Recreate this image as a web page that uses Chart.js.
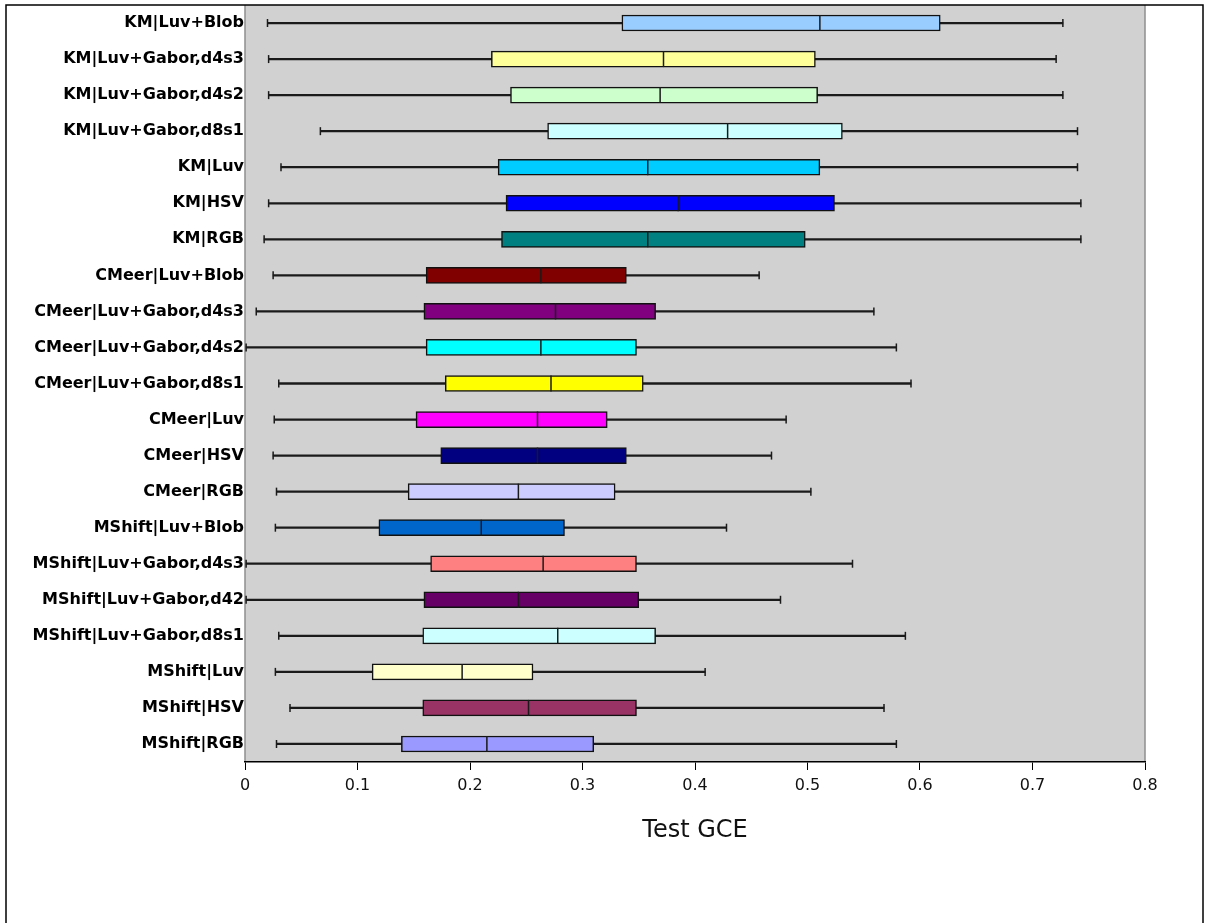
<!DOCTYPE html>
<html>
<head>
<meta charset="utf-8">
<title>Test GCE</title>
<script src="https://cdn.jsdelivr.net/npm/chart.js@4.4.1/dist/chart.umd.min.js"></script>
<style>
  html, body { margin: 0; padding: 0; background: #fff; }
  #wrap { width: 1205px; height: 923px; }
</style>
</head>
<body>
<div id="wrap"><canvas id="gceChart" width="1205" height="923"></canvas></div>
<script>
// Métodos de segmentación (de arriba a abajo)
const methods = [
  'KM|Luv+Blob', 'KM|Luv+Gabor,d4s3', 'KM|Luv+Gabor,d4s2', 'KM|Luv+Gabor,d8s1',
  'KM|Luv', 'KM|HSV', 'KM|RGB',
  'CMeer|Luv+Blob', 'CMeer|Luv+Gabor,d4s3', 'CMeer|Luv+Gabor,d4s2', 'CMeer|Luv+Gabor,d8s1',
  'CMeer|Luv', 'CMeer|HSV', 'CMeer|RGB',
  'MShift|Luv+Blob', 'MShift|Luv+Gabor,d4s3', 'MShift|Luv+Gabor,d42', 'MShift|Luv+Gabor,d8s1',
  'MShift|Luv', 'MShift|HSV', 'MShift|RGB'
];

// Estadísticos de cada caja
const whiskerLow  = [0.020, 0.021, 0.021, 0.067, 0.032, 0.021, 0.017,
                     0.025, 0.010, 0.001, 0.030, 0.026, 0.025, 0.028,
                     0.027, 0.001, 0.001, 0.030, 0.027, 0.040, 0.028];
const quartile1   = [0.335, 0.219, 0.236, 0.269, 0.225, 0.232, 0.228,
                     0.161, 0.159, 0.161, 0.178, 0.152, 0.174, 0.145,
                     0.119, 0.165, 0.159, 0.158, 0.113, 0.158, 0.139];
const medians     = [0.511, 0.372, 0.369, 0.429, 0.358, 0.385, 0.358,
                     0.263, 0.276, 0.263, 0.272, 0.260, 0.260, 0.243,
                     0.210, 0.265, 0.243, 0.278, 0.193, 0.252, 0.215];
const quartile3   = [0.618, 0.507, 0.509, 0.531, 0.511, 0.524, 0.498,
                     0.339, 0.365, 0.348, 0.354, 0.322, 0.339, 0.329,
                     0.284, 0.348, 0.350, 0.365, 0.256, 0.348, 0.310];
const whiskerHigh = [0.727, 0.721, 0.727, 0.740, 0.740, 0.743, 0.743,
                     0.457, 0.559, 0.579, 0.592, 0.481, 0.468, 0.503,
                     0.428, 0.540, 0.476, 0.587, 0.409, 0.568, 0.579];

const boxColors = [
  '#99ccff', '#ffff99', '#ccffcc', '#ccffff', '#00ccff', '#0000ff', '#008080',
  '#800000', '#800080', '#00ffff', '#ffff00', '#ff00ff', '#000080', '#ccccff',
  '#0066cc', '#ff8080', '#660066', '#ccffff', '#ffffcc', '#993366', '#9999ff'
];

const xTickValues = [0, 0.1, 0.2, 0.3, 0.4, 0.5, 0.6, 0.7, 0.8];
const xTickLabels = ['0', '0.1', '0.2', '0.3', '0.4', '0.5', '0.6', '0.7', '0.8'];

const toPoints = vals => vals.map((v, i) => ({ x: v, y: methods[i] }));

// Fondo gris del área de trazado y marco exterior
const plotFrame = {
  id: 'plotFrame',
  beforeDraw(chart) {
    const { ctx, chartArea: a } = chart;
    ctx.save();
    ctx.fillStyle = '#fff';
    ctx.fillRect(0, 0, chart.width, chart.height);
    ctx.fillStyle = '#d1d1d1';
    ctx.fillRect(a.left, a.top, a.right - a.left, a.bottom - a.top);
    ctx.strokeStyle = '#8f8f8f';
    ctx.lineWidth = 1.5;
    ctx.beginPath();
    ctx.moveTo(a.left, a.top); ctx.lineTo(a.left, a.bottom);
    ctx.moveTo(a.right, a.top); ctx.lineTo(a.right, a.bottom);
    ctx.stroke();
    ctx.strokeStyle = '#000';
    ctx.strokeRect(6, 5, 1197, 1000);
    ctx.restore();
  }
};

Chart.defaults.font.family = '"DejaVu Sans", sans-serif';
Chart.defaults.color = '#000';

const capStyle = {
  type: 'scatter',
  pointStyle: 'line',
  rotation: 90,
  borderColor: '#1a1a1a',
  borderWidth: 1.5,
  clip: false,
  order: 1
};

const ctx = document.getElementById('gceChart').getContext('2d');
const gceChart = new Chart(ctx, {
  type: 'bar',
  data: {
    labels: methods,
    datasets: [
      {
        label: 'rango',
        data: whiskerLow.map((v, i) => [v, whiskerHigh[i]]),
        backgroundColor: '#1a1a1a',
        borderWidth: 0,
        barThickness: 1.6,
        grouped: false,
        order: 3
      },
      {
        label: 'cuartiles',
        data: quartile1.map((v, i) => [v, quartile3[i]]),
        backgroundColor: boxColors,
        borderColor: '#111',
        borderWidth: 1.5,
        borderSkipped: false,
        barThickness: 16,
        grouped: false,
        order: 2
      },
      Object.assign({ label: 'mediana', data: toPoints(medians), radius: 8 }, capStyle),
      Object.assign({ label: 'mínimo', data: toPoints(whiskerLow), radius: 4 }, capStyle),
      Object.assign({ label: 'máximo', data: toPoints(whiskerHigh), radius: 4 }, capStyle)
    ]
  },
  options: {
    indexAxis: 'y',
    responsive: false,
    animation: false,
    events: [],
    layout: { autoPadding: false, padding: { top: 5, right: 60, bottom: 78, left: 0 } },
    plugins: {
      legend: { display: false },
      tooltip: { enabled: false }
    },
    scales: {
      x: {
        type: 'linear',
        min: 0,
        max: 0.8,
        afterBuildTicks: s => { s.ticks = xTickValues.map(v => ({ value: v })); },
        afterFit: s => { s.height = 83; s.paddingLeft = 0; s.paddingRight = 0; },
        ticks: {
          callback: (v, i) => xTickLabels[i],
          font: { size: 16 },
          color: '#111',
          padding: 6,
          maxRotation: 0
        },
        grid: { drawOnChartArea: false, drawTicks: true, tickLength: 8, color: '#000', lineWidth: 1 },
        border: { display: true, color: '#000', width: 1.5 },
        title: { display: true, text: 'Test GCE', font: { size: 24 }, color: '#111', padding: 0 }
      },
      y: {
        type: 'category',
        afterFit: s => { s.width = 245; s.paddingTop = 0; s.paddingBottom = 0; },
        ticks: { font: { size: 16, weight: 'bold' }, color: '#000', padding: 1, autoSkip: false },
        grid: { display: false, drawTicks: false },
        border: { display: false }
      }
    }
  },
  plugins: [plotFrame]
});
</script>
</body>
</html>
